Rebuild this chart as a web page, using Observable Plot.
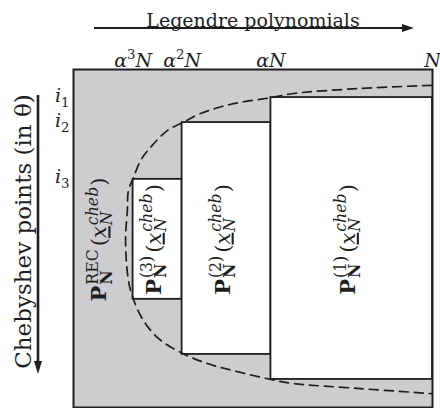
<!DOCTYPE html>
<html>
<head>
<meta charset="utf-8">
<script src="https://cdn.jsdelivr.net/npm/d3@7"></script>
<script src="https://cdn.jsdelivr.net/npm/@observablehq/plot@0.6"></script>
<style>
  html, body { margin: 0; padding: 0; background: #fff; }
  svg text { font-family: "DejaVu Serif", serif; }
</style>
</head>
<body>
<div id="chart"></div>
<script>
// Polynomial degree breakpoints, as fractions of N (alpha ≈ 0.55)
const degreeTicks = [0.166, 0.3025, 0.55, 1];
const degreeTickLabels = ["α^3N", "α^2N", "αN", "N"];

// Chebyshev point indices where each block starts (fraction of the θ range)
const pointTicks = [0.083, 0.157, 0.325];
const pointTickLabels = ["i_1", "i_2", "i_3"];

// Evaluation blocks: degree range [deg0, deg1] on point range [pt0, pt1]
const blockNames = ["REC", "(3)", "(2)", "(1)"];
const blockDeg0 = [0, 0.166, 0.3025, 0.55];
const blockDeg1 = [0.166, 0.3025, 0.55, 1];
const blockPt0 = [0, 0.325, 0.157, 0.083];
const blockPt1 = [1, 0.68, 0.843, 0.917];

// Stability boundary of the direct evaluation (dashed curve)
const boundaryDeg = [0.997, 0.799, 0.613, 0.552, 0.446, 0.354, 0.304, 0.262, 0.214, 0.187, 0.167, 0.153, 0.150, 0.145,
                     0.153, 0.167, 0.195, 0.237, 0.304, 0.373, 0.446, 0.549, 0.613, 0.799, 0.997];
const boundaryPt  = [0.047, 0.056, 0.071, 0.083, 0.101, 0.130, 0.157, 0.180, 0.231, 0.269, 0.320, 0.358, 0.417, 0.506,
                     0.624, 0.680, 0.743, 0.796, 0.840, 0.870, 0.891, 0.917, 0.929, 0.944, 0.959];

const blocks = blockNames.map((name, i) => ({name, deg0: blockDeg0[i], deg1: blockDeg1[i], pt0: blockPt0[i], pt1: blockPt1[i]}));
const boundary = boundaryDeg.map((deg, i) => ({deg, pt: boundaryPt[i]}));

const ink = "#1e1e1e";

const plot = Plot.plot({
  width: 440,
  height: 408,
  marginTop: 69,
  marginLeft: 73,
  marginRight: 8,
  marginBottom: 1,
  x: {domain: [0, 1], axis: null},
  y: {domain: [0, 1], reverse: true, axis: null},
  style: {fontFamily: "DejaVu Serif, serif", fontSize: "19px", color: ink, background: "white"},
  marks: [
    Plot.frame({fill: "#cdcdcf"}),
    Plot.rect(blocks.filter(b => b.name !== "REC"), {
      x1: "deg0", x2: "deg1", y1: "pt0", y2: "pt1",
      fill: "white", stroke: ink, strokeWidth: 1.8
    }),
    Plot.line(boundary, {
      x: "deg", y: "pt", curve: "catmull-rom",
      stroke: ink, strokeWidth: 1.7, strokeDasharray: "9,6"
    }),
    Plot.frame({stroke: ink, strokeWidth: 2}),
    Plot.text(blocks, {
      x: b => (b.deg0 + b.deg1) / 2, y: 0.5, text: "name",
      rotate: -90, dx: -3, dy: 1, fill: ink
    }),
    Plot.text(degreeTicks, {
      x: d => d, frameAnchor: "top", dy: -16,
      text: (d, i) => degreeTickLabels[i], fill: ink
    }),
    Plot.text(pointTicks, {
      y: d => d, frameAnchor: "left", dx: -4, dy: -2, textAnchor: "end",
      text: (d, i) => pointTickLabels[i], fill: ink
    }),
    Plot.text(["Legendre polynomials"], {frameAnchor: "top", dy: -56, fill: ink}),
    Plot.text(["Chebyshev points (in θ)"], {
      frameAnchor: "left", textAnchor: "middle", dx: -50, dy: -7,
      rotate: -90, fontSize: 23, fill: ink
    })
  ]
});

document.getElementById("chart").appendChild(plot);

// Typeset runs of text with italic/bold, super/subscripts and stacked scripts
function typeset(el, runs, base, scriptScale = 0.7) {
  const sel = d3.select(el);
  sel.text(null);
  let cur = 0, stackW = 0, carry = 0;
  for (const r of runs) {
    const size = r.shift ? base * scriptScale : base;
    const target = r.shift === "sup" ? base * 0.42 : r.shift === "sub" ? -base * 0.26 : 0;
    const ts = sel.append("tspan").text(r.t).attr("font-size", size);
    if (r.italic) ts.attr("font-style", "italic");
    if (r.bold) ts.attr("font-weight", "bold");
    if (r.underline) ts.attr("text-decoration", "underline");
    const dy = cur - target;
    if (dy) ts.attr("dy", dy);
    cur = target;
    let dx = carry + (r.gap || 0);
    carry = 0;
    if (r.stackEnd) dx -= stackW;
    if (dx) ts.attr("dx", dx);
    const w = ts.node().getComputedTextLength();
    if (r.stack) stackW = w;
    if (r.stackEnd) carry = Math.max(0, stackW - w);
  }
}

function mathRuns(str) {
  const runs = [];
  for (let k = 0; k < str.length; k++) {
    const c = str[k];
    if (c === "^" || c === "_") runs.push({t: str[++k], shift: c === "^" ? "sup" : "sub"});
    else runs.push({t: c, italic: /[A-Za-zα-ω]/.test(c)});
  }
  return runs;
}

function blockRuns(name) {
  return [
    {t: "P", bold: true},
    {t: name, shift: "sup", stack: true, gap: 1},
    {t: "N", shift: "sub", bold: true, stackEnd: true},
    {t: "(", gap: 3},
    {t: "x", italic: true, underline: true},
    {t: "cheb", shift: "sup", italic: true, stack: true, gap: 1},
    {t: "N", shift: "sub", italic: true, stackEnd: true},
    {t: ")", gap: 1}
  ];
}

const svg = d3.select(plot);
svg.selectAll("text").each(function () {
  const s = this.textContent;
  if (degreeTickLabels.includes(s) || pointTickLabels.includes(s)) typeset(this, mathRuns(s), 19);
  else if (blockNames.includes(s)) typeset(this, blockRuns(s), 21, 0.75);
});

// Direction arrows for the two axes
const arrows = svg.append("g").attr("fill", ink).attr("stroke", ink);
arrows.append("line").attr("x1", 94).attr("x2", 405).attr("y1", 28).attr("y2", 28).attr("stroke-width", 2.2);
arrows.append("path").attr("stroke", "none").attr("d", "M402,24 L414,28 L402,32 Z");
arrows.append("line").attr("x1", 38).attr("x2", 38).attr("y1", 95).attr("y2", 364).attr("stroke-width", 2.6);
arrows.append("path").attr("stroke", "none").attr("d", "M34,361 L38,374 L42,361 Z");
</script>
</body>
</html>
